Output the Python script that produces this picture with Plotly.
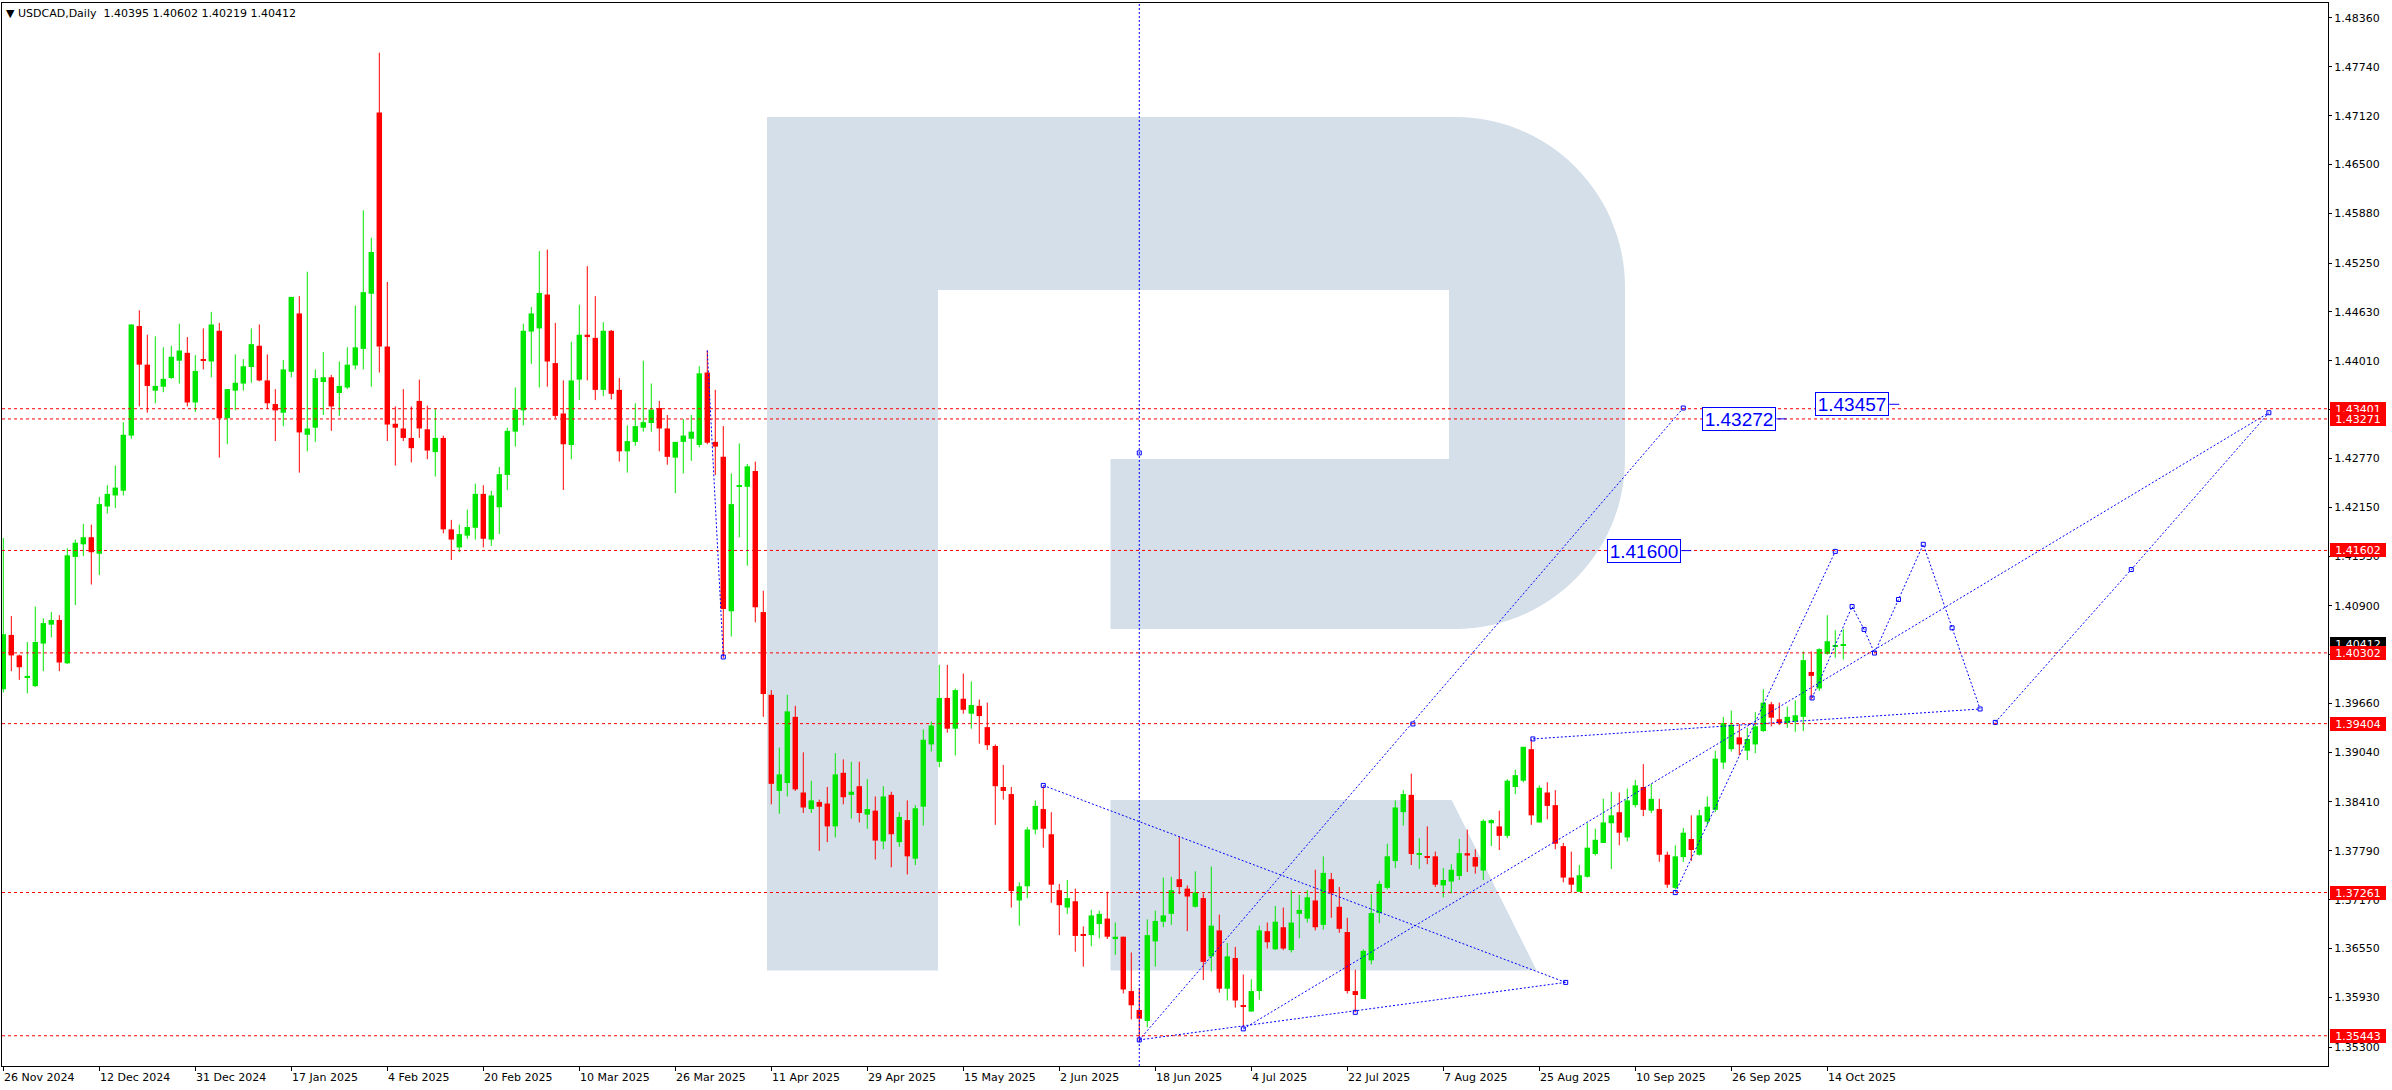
import plotly.graph_objects as go

# ---------------- data ----------------
date_labels = ["26 Nov 2024", "12 Dec 2024", "31 Dec 2024", "17 Jan 2025", "4 Feb 2025",
               "20 Feb 2025", "10 Mar 2025", "26 Mar 2025", "11 Apr 2025", "29 Apr 2025",
               "15 May 2025", "2 Jun 2025", "18 Jun 2025", "4 Jul 2025", "22 Jul 2025",
               "7 Aug 2025", "25 Aug 2025", "10 Sep 2025", "26 Sep 2025", "14 Oct 2025"]
label_bars = [0, 12, 24, 36, 48, 60, 72, 84, 96, 108, 120, 132, 144, 156, 168, 180, 192, 204, 216, 228]

opens = [
 1.3984, 1.4053, 1.4027, 1.3999, 1.3988, 1.4042, 1.4066, 1.4072, 1.4017, 1.4152,
 1.4168, 1.4177, 1.4156, 1.4216, 1.4230, 1.4236, 1.4306, 1.4445, 1.4396, 1.4363,
 1.4368, 1.4379, 1.4401, 1.4411, 1.4348, 1.4403, 1.4400, 1.4439, 1.4328, 1.4363,
 1.4372, 1.4393, 1.4420, 1.4376, 1.4346, 1.4335, 1.4387, 1.4461, 1.4307, 1.4316,
 1.4374, 1.4380, 1.4360, 1.4367, 1.4395, 1.4416, 1.4486, 1.4716, 1.4419, 1.4321,
 1.4315, 1.4303, 1.4350, 1.4314, 1.4285, 1.4303, 1.4187, 1.4164, 1.4179, 1.4189,
 1.4232, 1.4174, 1.4215, 1.4256, 1.4311, 1.4338, 1.4438, 1.4442, 1.4485, 1.4398,
 1.4334, 1.4294, 1.4377, 1.4434, 1.4430, 1.4364, 1.4439, 1.4364, 1.4286, 1.4298,
 1.4316, 1.4322, 1.4341, 1.4315, 1.4278, 1.4298, 1.4302, 1.4294, 1.4386, 1.4298,
 1.4279, 1.4083, 1.4241, 1.4241, 1.4261, 1.4082, 1.3977, 1.3855, 1.3865, 1.3949,
 1.3853, 1.3832, 1.3841, 1.3839, 1.3810, 1.3878, 1.3850, 1.3861, 1.3825, 1.3830,
 1.3791, 1.3850, 1.3790, 1.3818, 1.3769, 1.3835, 1.3914, 1.3892, 1.3973, 1.3934,
 1.3972, 1.3953, 1.3963, 1.3936, 1.3912, 1.3860, 1.3851, 1.3716, 1.3734, 1.3806,
 1.3832, 1.3800, 1.3729, 1.3707, 1.3715, 1.3673, 1.3672, 1.3686, 1.3693, 1.3667,
 1.3670, 1.3601, 1.3577, 1.3563, 1.3664, 1.3689, 1.3699, 1.3743, 1.3731, 1.3708,
 1.3719, 1.3645, 1.3678, 1.3604, 1.3643, 1.3583, 1.3575, 1.3601, 1.3677, 1.3654,
 1.3682, 1.3653, 1.3699, 1.3693, 1.3716, 1.3685, 1.3743, 1.3708, 1.3676, 1.3601,
 1.3591, 1.3640, 1.3700, 1.3732, 1.3766, 1.3828, 1.3850, 1.3774, 1.3772, 1.3772,
 1.3735, 1.3740, 1.3747, 1.3776, 1.3771, 1.3754, 1.3814, 1.3810, 1.3798, 1.3860,
 1.3868, 1.3908, 1.3815, 1.3853, 1.3837, 1.3785, 1.3745, 1.3727, 1.3746, 1.3775,
 1.3789, 1.3814, 1.3828, 1.3796, 1.3837, 1.3860, 1.3830, 1.3832, 1.3774, 1.3732,
 1.3771, 1.3794, 1.3774, 1.3816, 1.3831, 1.3891, 1.3908, 1.3923, 1.3906, 1.3914,
 1.3931, 1.3965, 1.3946, 1.3941, 1.3943, 1.3949, 1.4006, 1.3985, 1.4029, 1.4038,
 1.40395]
highs = [
 1.4176, 1.4077, 1.4028, 1.4044, 1.4089, 1.4074, 1.4082, 1.4078, 1.4163, 1.4174,
 1.4194, 1.4193, 1.4228, 1.4243, 1.4268, 1.4323, 1.4447, 1.4465, 1.4434, 1.4432,
 1.4418, 1.4420, 1.4448, 1.4431, 1.4408, 1.4442, 1.4463, 1.4449, 1.4365, 1.4409,
 1.4403, 1.4442, 1.4447, 1.4409, 1.4365, 1.4402, 1.4482, 1.4483, 1.4514, 1.4390,
 1.4412, 1.4383, 1.4400, 1.4418, 1.4471, 1.4592, 1.4557, 1.4792, 1.4501, 1.4343,
 1.4365, 1.4343, 1.4377, 1.4344, 1.4340, 1.4306, 1.4199, 1.4193, 1.4212, 1.4245,
 1.4243, 1.4236, 1.4266, 1.4316, 1.4367, 1.4448, 1.4469, 1.4540, 1.4542, 1.4449,
 1.4376, 1.4425, 1.4472, 1.4521, 1.4483, 1.4450, 1.4440, 1.4379, 1.4319, 1.4347,
 1.4401, 1.4372, 1.4350, 1.4332, 1.4298, 1.4327, 1.4332, 1.4394, 1.4414, 1.4364,
 1.4318, 1.4258, 1.4296, 1.4270, 1.4273, 1.4109, 1.3983, 1.3910, 1.3977, 1.3963,
 1.3904, 1.3868, 1.3844, 1.3860, 1.3903, 1.3895, 1.3892, 1.3892, 1.3870, 1.3848,
 1.3861, 1.3854, 1.3828, 1.3843, 1.3837, 1.3933, 1.3943, 1.4015, 1.4015, 1.3985,
 1.4004, 1.3994, 1.3971, 1.3967, 1.3914, 1.3888, 1.3860, 1.3739, 1.3809, 1.3843,
 1.3861, 1.3828, 1.3737, 1.3742, 1.3731, 1.3683, 1.3704, 1.3703, 1.3727, 1.3688,
 1.3670, 1.3650, 1.3605, 1.3692, 1.3703, 1.3745, 1.3746, 1.3797, 1.3735, 1.3753,
 1.3725, 1.3759, 1.3698, 1.3662, 1.3657, 1.3622, 1.3616, 1.3684, 1.3688, 1.3709,
 1.3707, 1.3729, 1.3723, 1.3729, 1.3755, 1.3772, 1.3751, 1.3733, 1.3694, 1.3628,
 1.3654, 1.3724, 1.3741, 1.3788, 1.3843, 1.3856, 1.3877, 1.3795, 1.3810, 1.3778,
 1.3757, 1.3762, 1.3794, 1.3806, 1.3781, 1.3819, 1.3819, 1.3830, 1.3870, 1.3882,
 1.3911, 1.3921, 1.3862, 1.3866, 1.3856, 1.3789, 1.3778, 1.3761, 1.3814, 1.3807,
 1.3845, 1.3854, 1.3853, 1.3858, 1.3869, 1.3889, 1.3864, 1.3845, 1.3778, 1.3786,
 1.3808, 1.3824, 1.3831, 1.3848, 1.3906, 1.3949, 1.3957, 1.3940, 1.3935, 1.3955,
 1.3984, 1.3968, 1.3967, 1.3962, 1.3970, 1.4032, 1.4032, 1.4036, 1.4078, 1.4059,
 1.40602]
lows = [
 1.3980, 1.4007, 1.3996, 1.3979, 1.3987, 1.4007, 1.4050, 1.4007, 1.4016, 1.4091,
 1.4153, 1.4117, 1.4129, 1.4207, 1.4214, 1.4230, 1.4302, 1.4343, 1.4335, 1.4347,
 1.4361, 1.4378, 1.4372, 1.4343, 1.4336, 1.4390, 1.4380, 1.4278, 1.4295, 1.4338,
 1.4363, 1.4373, 1.4375, 1.4340, 1.4299, 1.4318, 1.4380, 1.4259, 1.4286, 1.4298,
 1.4332, 1.4312, 1.4331, 1.4365, 1.4390, 1.4390, 1.4368, 1.4386, 1.4299, 1.4268,
 1.4299, 1.4272, 1.4303, 1.4276, 1.4254, 1.4182, 1.4148, 1.4158, 1.4175, 1.4174,
 1.4164, 1.4166, 1.4181, 1.4237, 1.4292, 1.4319, 1.4397, 1.4367, 1.4368, 1.4328,
 1.4237, 1.4276, 1.4351, 1.4376, 1.4351, 1.4356, 1.4352, 1.4273, 1.4259, 1.4293,
 1.4311, 1.4311, 1.4286, 1.4269, 1.4233, 1.4258, 1.4274, 1.4291, 1.4295, 1.4256,
 1.4024, 1.4051, 1.4177, 1.4141, 1.4069, 1.3949, 1.3838, 1.3826, 1.3848, 1.3855,
 1.3827, 1.3827, 1.3779, 1.3790, 1.3796, 1.3838, 1.3820, 1.3815, 1.3807, 1.3768,
 1.3781, 1.3758, 1.3784, 1.3749, 1.3761, 1.3811, 1.3905, 1.3885, 1.3929, 1.3900,
 1.3953, 1.3934, 1.3915, 1.3907, 1.3812, 1.3844, 1.3707, 1.3684, 1.3719, 1.3800,
 1.3783, 1.3713, 1.3672, 1.3699, 1.3651, 1.3632, 1.3658, 1.3668, 1.3667, 1.3647,
 1.3598, 1.3565, 1.3536, 1.3555, 1.3632, 1.3682, 1.3685, 1.3724, 1.3677, 1.3707,
 1.3615, 1.3626, 1.3599, 1.3589, 1.3580, 1.3555, 1.3575, 1.3590, 1.3655, 1.3653,
 1.3653, 1.3650, 1.3668, 1.3688, 1.3678, 1.3679, 1.3694, 1.3675, 1.3598, 1.3574,
 1.3591, 1.3635, 1.3687, 1.3730, 1.3757, 1.3811, 1.3761, 1.3756, 1.3762, 1.3733,
 1.3720, 1.3725, 1.3742, 1.3752, 1.3750, 1.3742, 1.3785, 1.3780, 1.3795, 1.3851,
 1.3866, 1.3812, 1.3815, 1.3819, 1.3781, 1.3739, 1.3726, 1.3727, 1.3745, 1.3773,
 1.3789, 1.3756, 1.3786, 1.3791, 1.3834, 1.3823, 1.3827, 1.3765, 1.3732, 1.3730,
 1.3765, 1.3766, 1.3773, 1.3811, 1.3828, 1.3883, 1.3905, 1.3900, 1.3894, 1.3903,
 1.3930, 1.3937, 1.3939, 1.3935, 1.3930, 1.3931, 1.3971, 1.3982, 1.4028, 1.4024,
 1.40219]
closes = [
 1.4054, 1.4027, 1.4012, 1.4001, 1.4044, 1.4068, 1.4072, 1.4018, 1.4154, 1.4170,
 1.4177, 1.4158, 1.4219, 1.4232, 1.4240, 1.4307, 1.4447, 1.4396, 1.4369, 1.4369,
 1.4378, 1.4406, 1.4414, 1.4348, 1.4388, 1.4402, 1.4447, 1.4328, 1.4365, 1.4373,
 1.4394, 1.4422, 1.4376, 1.4347, 1.4338, 1.4390, 1.4482, 1.4310, 1.4315, 1.4379,
 1.4380, 1.4343, 1.4369, 1.4396, 1.4418, 1.4488, 1.4539, 1.4419, 1.4320, 1.4316,
 1.4303, 1.4290, 1.4315, 1.4287, 1.4303, 1.4187, 1.4174, 1.4181, 1.4190, 1.4232,
 1.4175, 1.4230, 1.4257, 1.4312, 1.4339, 1.4439, 1.4461, 1.4487, 1.4400, 1.4331,
 1.4295, 1.4376, 1.4434, 1.4431, 1.4364, 1.4439, 1.4359, 1.4286, 1.4299, 1.4318,
 1.4323, 1.4339, 1.4315, 1.4279, 1.4298, 1.4306, 1.4311, 1.4385, 1.4297, 1.4292,
 1.4086, 1.4219, 1.4243, 1.4267, 1.4088, 1.3978, 1.3864, 1.3876, 1.3956, 1.3857,
 1.3834, 1.3843, 1.3835, 1.3810, 1.3876, 1.3847, 1.3854, 1.3827, 1.3832, 1.3792,
 1.3848, 1.3800, 1.3822, 1.3772, 1.3833, 1.3920, 1.3938, 1.3973, 1.3934, 1.3983,
 1.3958, 1.3964, 1.3950, 1.3913, 1.3861, 1.3855, 1.3728, 1.3734, 1.3806, 1.3836,
 1.3807, 1.3736, 1.3710, 1.3719, 1.3671, 1.3671, 1.3697, 1.3699, 1.3670, 1.3670,
 1.3603, 1.3583, 1.3566, 1.3672, 1.3690, 1.3697, 1.3729, 1.3733, 1.3721, 1.3726,
 1.3638, 1.3684, 1.3604, 1.3645, 1.3589, 1.3582, 1.3601, 1.3678, 1.3663, 1.3689,
 1.3655, 1.3688, 1.3704, 1.3720, 1.3682, 1.3751, 1.3725, 1.3680, 1.3601, 1.3596,
 1.3652, 1.3700, 1.3737, 1.3772, 1.3834, 1.3851, 1.3775, 1.3776, 1.3770, 1.3736,
 1.3742, 1.3755, 1.3776, 1.3773, 1.3759, 1.3817, 1.3818, 1.3798, 1.3868, 1.3875,
 1.3911, 1.3824, 1.3859, 1.3836, 1.3788, 1.3745, 1.3736, 1.3748, 1.3783, 1.3793,
 1.3815, 1.3824, 1.3802, 1.3843, 1.3862, 1.3831, 1.3845, 1.3774, 1.3736, 1.3772,
 1.3802, 1.3780, 1.3824, 1.3835, 1.3896, 1.3941, 1.3939, 1.3914, 1.3921, 1.3937,
 1.3967, 1.3948, 1.3941, 1.3949, 1.3951, 1.4021, 1.4001, 1.4035, 1.4045, 1.4040,
 1.40412]

# horizontal levels (red dashed lines with price tags)
level_prices = [1.43401, 1.43271, 1.41602, 1.40302, 1.39404, 1.37261, 1.35443]
current_price = 1.40412

# y-axis ticks
y_ticks = [1.48360, 1.47740, 1.47120, 1.46500, 1.45880, 1.45250, 1.44630, 1.44010, 1.43390,
           1.42770, 1.42150, 1.41530, 1.40900, 1.40280, 1.39660, 1.39040, 1.38410, 1.37790,
           1.37170, 1.36550, 1.35930, 1.35300]

# analyst drawings: (bar index, price) polylines
vertical_bar = 142
blue_paths = [
    [(88, 1.4414), (90, 1.4025)],
    [(130, 1.3862), (195.3, 1.3612)],
    [(142, 1.3539), (195.3, 1.3612)],
    [(142, 1.3539), (210.0, 1.4341)],
    [(155, 1.3553), (283.2, 1.4335)],
    [(191.2, 1.3921), (247.1, 1.3959)],
    [(209, 1.3726), (229.0, 1.4159)],
    [(226.1, 1.3973), (231.1, 1.4089), (232.6, 1.4060), (233.9, 1.4030), (236.9, 1.4098),
     (240.0, 1.4168), (243.6, 1.4062), (247.1, 1.3959)],
    [(249.0, 1.3942), (266.0, 1.4136), (283.2, 1.4335)],
]
anchor_points = [(142, 1.4284), (142, 1.3539), (155, 1.3553), (169, 1.3574), (130, 1.3862),
                 (195.3, 1.3612), (176.2, 1.3940), (210.0, 1.4341), (191.2, 1.3921),
                 (209, 1.3726), (229.0, 1.4159), (226.1, 1.3973), (231.1, 1.4089),
                 (232.6, 1.4060), (233.9, 1.4030), (236.9, 1.4098), (240.0, 1.4168),
                 (243.6, 1.4062), (247.1, 1.3959), (249.0, 1.3942), (266.0, 1.4136),
                 (283.2, 1.4335), (90, 1.4025)]
# price labels (text, anchor bar, price)
blue_labels = [("1.41600", 211.0, 1.41600), ("1.43272", 222.9, 1.43272), ("1.43457", 237.0, 1.43457)]

title_text = "\u25bc USDCAD,Daily\u00a0\u00a01.40395 1.40602 1.40219 1.40412"

# ---------------- figure ----------------
W, H = 2392, 1090
ML, MR, MT, MB = 2, 64, 3, 24
PW, PH = W - ML - MR, H - MT - MB

BULL = "#00e600"
BEAR = "#ff0000"
BLUE = "#0000ff"
FONT = "DejaVu Sans"

n = len(opens)
idx = list(range(n))
up = [closes[i] >= opens[i] for i in idx]
min_h = 0.00013
body_base = []
body_h = []
for i in idx:
    lo = min(opens[i], closes[i])
    h = abs(closes[i] - opens[i])
    if h < min_h:
        lo = lo - (min_h - h) / 2
        h = min_h
    body_base.append(lo)
    body_h.append(h)

fig = go.Figure()

for color, flag in ((BULL, True), (BEAR, False)):
    wx, wy = [], []
    for i in idx:
        if up[i] == flag:
            wx += [i, i, None]
            wy += [lows[i], highs[i], None]
    fig.add_trace(go.Scatter(x=wx, y=wy, mode="lines", line=dict(color=color, width=1),
                             hoverinfo="skip", showlegend=False))

fig.add_trace(go.Bar(x=idx, y=body_h, base=body_base, width=0.68,
                     marker=dict(color=[BULL if u else BEAR for u in up], line=dict(width=0)),
                     showlegend=False, hoverinfo="skip"))

for path in blue_paths:
    fig.add_trace(go.Scatter(x=[p[0] for p in path], y=[p[1] for p in path], mode="lines",
                             line=dict(color=BLUE, width=1, dash="2px,2px"),
                             showlegend=False, hoverinfo="skip"))
fig.add_trace(go.Scatter(x=[p[0] for p in anchor_points], y=[p[1] for p in anchor_points],
                         mode="markers",
                         marker=dict(symbol="square-open", size=4, color=BLUE, line=dict(width=1, color=BLUE)),
                         showlegend=False, hoverinfo="skip"))

# ---- shapes ----
def px2paper(x, y):
    return (x - ML) / PW, 1 - (y - MT) / PH

def path_from(points_cmds):
    out = []
    for cmd, pts in points_cmds:
        coords = []
        for (x, y) in pts:
            a, b = px2paper(x, y)
            coords.append(f"{a:.5f},{b:.5f}")
        out.append(cmd + " ".join(coords))
    return " ".join(out) + " Z"

r = 170
k = 0.5523 * r
R_outer = [
    ("M", [(767, 117)]), ("L", [(1455, 117)]),
    ("C", [(1455 + k, 117), (1625, 287 - k), (1625, 287)]),
    ("L", [(1625, 459)]),
    ("C", [(1625, 459 + k), (1455 + k, 629), (1455, 629)]),
    ("L", [(1110.5, 629)]), ("L", [(1110.5, 459)]), ("L", [(1449, 459)]),
    ("L", [(1449, 290)]), ("L", [(938, 290)]), ("L", [(938, 970.5)]), ("L", [(767, 970.5)]),
]
R_leg = [("M", [(1110.5, 800)]), ("L", [(1451.7, 800)]), ("L", [(1536.7, 970.5)]), ("L", [(1110.5, 970.5)])]
WM = "#d4dfea"
shapes = [
    dict(type="path", xref="paper", yref="paper", path=path_from(R_outer), fillcolor=WM,
         line=dict(width=0), layer="below"),
    dict(type="path", xref="paper", yref="paper", path=path_from(R_leg), fillcolor=WM,
         line=dict(width=0), layer="below"),
]
for p in level_prices:
    shapes.append(dict(type="line", xref="paper", yref="y", x0=0, x1=1, y0=p, y1=p,
                       line=dict(color=BEAR, width=1, dash="3px,3px"), layer="above"))
shapes.append(dict(type="line", xref="x", yref="paper", x0=vertical_bar, x1=vertical_bar, y0=0, y1=1,
                   line=dict(color=BLUE, width=1, dash="2px,2px"), layer="above"))
for txt, bx, p in blue_labels:
    shapes.append(dict(type="line", xref="x", yref="y", x0=bx - 1.25, x1=bx, y0=p, y1=p,
                       line=dict(color=BLUE, width=1), layer="above"))

# ---- annotations ----
ann = []
for b, t in zip(label_bars, date_labels):
    ann.append(dict(x=b, xref="x", y=0, yref="paper", text=t, showarrow=False, xanchor="left",
                    yanchor="top", xshift=-1.5, yshift=-3, font=dict(family=FONT, size=11, color="black")))
ann.append(dict(x=1, xref="paper", y=current_price, yref="y", text=f"{current_price:.5f}", showarrow=False,
                xanchor="left", yanchor="middle", xshift=2, width=52, height=10, bgcolor="black",
                bordercolor="black", borderwidth=1, borderpad=1,
                font=dict(family=FONT, size=11, color="white")))
for p in level_prices:
    ann.append(dict(x=1, xref="paper", y=p, yref="y", text=f"{p:.5f}", showarrow=False,
                    xanchor="left", yanchor="middle", xshift=2, width=52, height=10, bgcolor=BEAR,
                    bordercolor=BEAR, borderwidth=1, borderpad=1,
                    font=dict(family=FONT, size=11, color="white")))
for txt, bx, p in blue_labels:
    ann.append(dict(x=bx - 1.25, xref="x", y=p, yref="y", text=txt, showarrow=False,
                    xanchor="right", yanchor="middle", width=70, height=20, bgcolor="white",
                    bordercolor=BLUE, borderwidth=1, borderpad=1,
                    font=dict(family="Liberation Sans", size=19, color=BLUE)))
ann.append(dict(x=0, xref="paper", y=1, yref="paper", text=title_text, showarrow=False,
                xanchor="left", yanchor="top", xshift=2, yshift=-2,
                font=dict(family=FONT, size=11, color="black")))

fig.update_layout(
    width=W, height=H, autosize=False,
    margin=dict(l=ML, r=MR, t=MT, b=MB, pad=0),
    paper_bgcolor="white", plot_bgcolor="white",
    font=dict(family=FONT, size=11, color="black"),
    barmode="overlay", showlegend=False, hovermode=False,
    shapes=shapes, annotations=ann,
    xaxis=dict(range=[-0.1625, 290.59], showgrid=False, zeroline=False, showline=True, mirror=True,
               linecolor="black", linewidth=1, ticks="outside", ticklen=4, tickcolor="black",
               tickvals=label_bars, showticklabels=False, fixedrange=True),
    yaxis=dict(range=[1.35059, 1.48550], side="right", showgrid=False, zeroline=False, showline=True,
               mirror=True, linecolor="black", linewidth=1, ticks="outside", ticklen=3,
               tickcolor="black", tickvals=y_ticks, ticktext=[f"{v:.5f}" for v in y_ticks],
               tickfont=dict(family=FONT, size=11, color="black"), fixedrange=True),
)

fig.write_html("out.html", config={"displayModeBar": False},
               post_script="document.body.style.margin='0';document.body.style.overflow='hidden';")
